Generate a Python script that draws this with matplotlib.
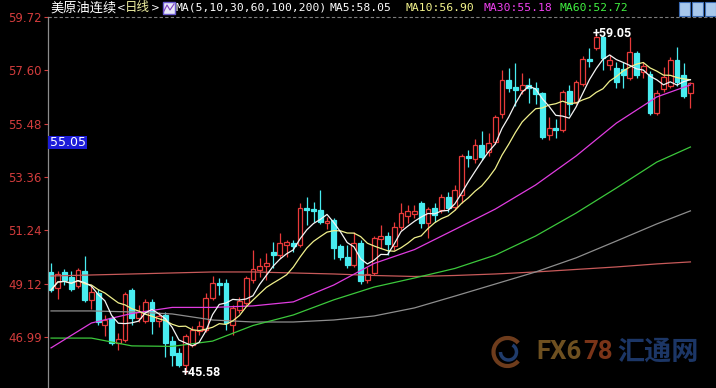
import matplotlib
matplotlib.use("Agg")
import matplotlib.pyplot as plt
from matplotlib.patches import Rectangle, Arc
import numpy as np
import pandas as pd

plt.rcParams['font.family'] = ['DejaVu Sans']

# 美原油连续 日K (从图上读出的 开/高/低/收)
opens = [49.58, 48.94, 49.58, 49.38, 49.02, 49.62, 48.47, 48.74, 47.47, 47.75,
         46.76, 46.87, 48.86, 47.75, 47.63, 48.39, 47.63, 47.87, 46.83, 46.36,
         45.88, 46.68, 47.23, 47.27, 48.55, 49.14, 49.14, 47.47, 48.07, 48.35,
         49.26, 49.66, 49.82, 50.37, 50.25, 50.65, 50.73, 50.65, 52.12, 52.08,
         52.04, 51.53, 51.65, 50.61, 50.18, 49.86, 50.73, 49.26, 49.54, 50.89,
         51.01, 50.61, 51.37, 51.81, 51.89, 52.32, 51.53, 52.12, 52.04, 52.56,
         52.16, 52.64, 54.19, 54.07, 54.63, 54.35, 54.75, 55.86, 57.21, 56.94,
         56.82, 57.01, 56.90, 56.70, 55.03, 55.31, 55.23, 56.78, 56.34, 57.05,
         58.05, 58.49, 58.93, 57.81, 57.69, 57.65, 57.29, 58.29, 57.53, 57.45,
         55.90, 56.86, 56.97, 58.01, 57.41, 56.70]
highs = [49.94, 49.62, 49.70, 49.62, 49.74, 50.22, 49.06, 48.90, 47.87, 47.83,
         47.15, 48.78, 48.94, 48.27, 48.51, 48.51, 47.99, 47.99, 47.03, 46.56,
         47.11, 47.43, 47.63, 48.74, 49.42, 49.34, 49.30, 48.27, 48.59, 49.42,
         50.45, 50.14, 50.33, 50.77, 51.13, 50.85, 50.85, 52.32, 52.56, 52.36,
         52.84, 51.77, 51.73, 50.69, 50.65, 51.17, 50.85, 49.78, 51.01, 51.45,
         51.17, 51.57, 52.32, 52.24, 52.24, 52.40, 52.16, 52.32, 52.68, 52.76,
         53.04, 54.27, 54.43, 54.87, 55.19, 55.11, 55.81, 57.61, 57.69, 57.89,
         57.49, 57.29, 57.13, 56.74, 55.73, 55.65, 56.82, 57.01, 57.21, 58.17,
         58.49, 59.05, 58.97, 58.21, 57.93, 57.93, 58.93, 58.37, 57.93, 57.57,
         56.82, 57.73, 58.13, 58.53, 57.89, 57.13]
lows = [48.78, 48.51, 49.06, 48.82, 48.94, 48.39, 48.11, 47.47, 47.03, 46.68,
        46.48, 46.79, 47.47, 47.59, 47.55, 47.11, 47.39, 46.20, 45.84, 45.80,
        45.58, 46.60, 47.07, 47.19, 48.47, 48.66, 47.27, 47.07, 47.95, 48.27,
        49.14, 49.38, 49.26, 49.74, 50.14, 50.18, 50.37, 50.57, 51.45, 51.57,
        51.49, 51.29, 50.10, 50.06, 49.74, 49.78, 49.10, 49.14, 49.46, 50.53,
        50.25, 50.45, 51.25, 51.53, 51.73, 51.33, 50.93, 51.57, 51.92, 51.96,
        52.04, 52.32, 53.76, 53.91, 54.03, 54.19, 54.67, 55.69, 56.74, 56.18,
        56.66, 56.30, 56.26, 54.87, 54.83, 54.91, 55.15, 55.81, 56.26, 56.97,
        57.73, 58.41, 57.61, 57.61, 56.90, 56.90, 57.21, 57.29, 57.29, 55.82,
        55.82, 56.74, 56.90, 56.97, 56.50, 56.10]
closes = [48.86, 49.50, 49.26, 48.90, 49.66, 48.47, 48.78, 47.59, 47.67, 46.76,
          46.91, 48.70, 47.75, 47.99, 48.39, 47.63, 47.83, 46.76, 46.28, 45.88,
          47.03, 47.27, 47.43, 48.55, 49.14, 49.06, 47.55, 48.15, 48.43, 49.34,
          49.70, 49.82, 49.94, 50.25, 50.73, 50.77, 50.61, 52.12, 52.04, 52.00,
          51.57, 51.61, 50.53, 50.18, 49.86, 50.73, 49.22, 49.50, 50.93, 51.01,
          50.69, 51.37, 51.92, 52.00, 52.00, 51.53, 52.08, 51.85, 52.56, 52.12,
          52.84, 54.19, 54.11, 54.63, 54.15, 54.71, 55.73, 57.21, 56.90, 56.82,
          57.01, 56.90, 56.66, 54.95, 55.31, 55.23, 56.74, 56.26, 57.13, 58.05,
          57.97, 58.93, 58.09, 58.01, 57.13, 57.41, 58.33, 57.41, 57.77, 55.90,
          56.70, 57.33, 58.01, 57.13, 56.58, 57.09]

# 长周期均线, 每6根K线读一个点
ma_idx = [0, 6, 12, 18, 24, 30, 36, 42, 48, 54, 60, 66, 72, 78, 84, 90, 95]
ma30 = [46.56, 47.55, 47.93, 48.17, 48.17, 48.23, 48.39, 49.06, 49.92, 50.47,
        51.27, 52.08, 53.04, 54.19, 55.50, 56.54, 57.02]
ma60 = [46.95, 46.95, 46.64, 46.62, 46.83, 47.45, 47.87, 48.47, 48.98, 49.34,
        49.72, 50.25, 51.01, 51.92, 52.92, 53.95, 54.55]
ma100 = [48.03, 48.03, 47.99, 47.91, 47.67, 47.59, 47.59, 47.67, 47.83, 48.15,
         48.62, 49.10, 49.58, 50.14, 50.81, 51.49, 52.01]
ma200 = [49.42, 49.46, 49.50, 49.54, 49.58, 49.58, 49.54, 49.50, 49.44, 49.40,
         49.44, 49.50, 49.58, 49.68, 49.78, 49.90, 49.98]

yticks = [59.72, 57.60, 55.48, 53.36, 51.24, 49.12, 46.99]
high_mark = (81, 59.05)
low_mark = (20, 45.58)
cursor_price = "55.05"

RED = "#e83a3a"
CYAN = "#48ecf0"
W, H = 716, 388


def fx(px):
    return px / W


def fy(py):
    return 1 - py / H


fig = plt.figure(figsize=(W / 100, H / 100), dpi=100, facecolor="black")
ax = fig.add_axes([fx(48), 0, fx(668), 371 / H], facecolor="black")

x = np.arange(len(closes))
o = np.array(opens)
h = np.array(highs)
l = np.array(lows)
c = np.array(closes)
up = c >= o
top = np.maximum(o, c)
bot = np.minimum(o, c)
cols = np.where(up, RED, CYAN)

# 影线
ax.vlines(x, top, h, colors=cols, lw=0.9, zorder=2)
ax.vlines(x, l, bot, colors=cols, lw=0.9, zorder=2)
# 实体: 阳线空心红, 阴线实心青
hgt = np.maximum(top - bot, 0.03)
ax.bar(x[up], hgt[up], 0.72, bottom=bot[up], facecolor="black",
       edgecolor=RED, linewidth=0.9, zorder=3)
ax.bar(x[~up], hgt[~up], 0.72, bottom=bot[~up], facecolor=CYAN,
       edgecolor=CYAN, linewidth=0.9, zorder=3)

# 均线
cs = pd.Series(closes)
ma5 = cs.rolling(5, min_periods=1).mean()
ma10 = cs.rolling(10, min_periods=1).mean()
ax.plot(ma_idx, ma200, color="#c85a5a", lw=0.9, zorder=4)
ax.plot(ma_idx, ma100, color="#8e8e8e", lw=0.9, zorder=4)
ax.plot(ma_idx, ma60, color="#3cc83c", lw=0.9, zorder=4)
ax.plot(ma_idx, ma30, color="#e03ce0", lw=0.9, zorder=4)
ax.plot(x, ma10, color="#f0f08c", lw=0.9, zorder=5)
ax.plot(x, ma5, color="#f4f4f4", lw=0.9, zorder=5)

# 坐标轴
ax.set_xlim(-0.45, 98.8)
ax.set_ylim(44.965, 59.72)
ax.set_xticks([])
ax.set_yticks(yticks)
ax.set_yticklabels([f"{v:.2f}" for v in yticks])
ax.tick_params(axis="y", colors="#d23c3c", labelsize=8.5, length=3,
               width=0.8, pad=1.5)
for s in ["top", "right", "bottom"]:
    ax.spines[s].set_visible(False)
ax.spines["left"].set_color("#8c8c8c")
ax.spines["left"].set_linewidth(0.9)
ax.axhline(59.72, color="#7c7c7c", lw=0.8, ls=(0, (3, 2)), clip_on=False)

# 最高/最低标注
ax.text(high_mark[0] - 0.5, high_mark[1], "+" + f"{high_mark[1]:.2f}",
        color="white", fontsize=9, fontweight="bold", family="Roboto",
        va="center", ha="left", zorder=6)
ax.text(low_mark[0] - 0.55, low_mark[1], "+" + f"{low_mark[1]:.2f}",
        color="white", fontsize=9, fontweight="bold", family="Roboto",
        va="center", ha="left", zorder=6)

# 光标价格标签
fig.add_artist(Rectangle((fx(48), fy(149)), fx(39), 13 / H,
                         transform=fig.transFigure, facecolor="#1c1cd8",
                         edgecolor="none"))
fig.text(fx(50), fy(142.5), cursor_price, color="white", fontsize=9,
         va="center", ha="left")

# 标题栏
ty = fy(8)
cjk = ["Noto Sans CJK SC", "DejaVu Sans"]
fig.text(fx(50), ty, "美原油连续", color="white", fontsize=9.5, family=cjk,
         va="center")
fig.text(fx(116.5), ty, "<", color="white", fontsize=7.5, va="center")
fig.text(fx(125), ty, "日线", color="#eeeea0", fontsize=9, family=cjk,
         va="center")
fig.text(fx(150.5), ty, ">", color="white", fontsize=7.5, va="center")
fig.add_artist(Rectangle((fx(163), fy(14)), fx(12), 12 / H,
                         transform=fig.transFigure, facecolor="#e8e8f8",
                         edgecolor="#6a5ad0", lw=1))
fig.add_artist(plt.Line2D([fx(164), fx(167), fx(170), fx(174)],
                          [fy(11), fy(5), fy(10), fy(4)],
                          transform=fig.transFigure, color="#8040c0", lw=0.8))
mono = "DejaVu Sans Mono"
header = [(176, "MA(5,10,30,60,100,200)", "white"),
          (330, "MA5:58.05", "white"),
          (405, "MA10:56.90", "#f4f48c"),
          (483, "MA30:55.18", "#f040f0"),
          (559, "MA60:52.72", "#40f040")]
for px, txt, col in header:
    fig.text(fx(px), ty, txt, color=col, fontsize=8.2, family=mono,
             va="center")
# 右上角按钮
for px in [679, 692, 705]:
    fig.add_artist(Rectangle((fx(px), fy(16)), fx(11), 14 / H,
                             transform=fig.transFigure, facecolor="#a8c8ec",
                             edgecolor="#3c6cb4", lw=0.8))

# 水印
fig.add_artist(Arc((5.075, H / 100 - 3.52), 0.28, 0.28, theta1=40,
                   theta2=320, transform=fig.dpi_scale_trans,
                   color="#6e3c1c", lw=3))
fig.add_artist(Arc((5.085, H / 100 - 3.52), 0.16, 0.16, theta1=180,
                   theta2=60, transform=fig.dpi_scale_trans,
                   color="#203c6c", lw=2.5))
fig.text(fx(536), fy(352), "FX6", color="#6e5020", fontsize=18.5,
         family="Roboto", fontweight="bold", va="center")
fig.text(fx(583), fy(352), "78", color="#7a3418", fontsize=18.5,
         family="Roboto", fontweight="bold", va="center")
fig.text(fx(617), fy(352), "汇通网", color="#1c3666", fontsize=19.5,
         family=cjk, fontweight="bold", va="center")

fig.savefig("out.png", dpi=100, facecolor="black")
